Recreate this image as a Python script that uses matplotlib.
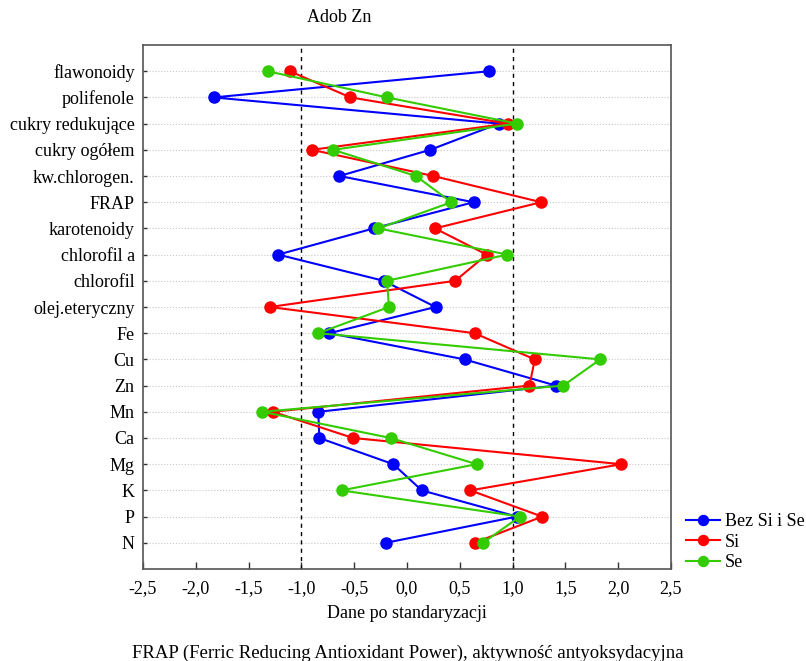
import numpy as np
import matplotlib.pyplot as plt

plt.rcParams['font.family'] = ['Liberation Serif', 'DejaVu Serif']

categories = [
    'flawonoidy', 'polifenole', 'cukry redukujące', 'cukry ogółem',
    'kw.chlorogen.', 'FRAP', 'karotenoidy', 'chlorofil a', 'chlorofil',
    'olej.eteryczny', 'Fe', 'Cu', 'Zn', 'Mn', 'Ca', 'Mg', 'K', 'P', 'N',
]

bez_si_se = [0.78, -1.83, 0.87, 0.22, -0.64, 0.63, -0.315, -1.22, -0.22,
             0.27, -0.735, 0.545, 1.41, -0.84, -0.83, -0.13, 0.14, 1.04, -0.20]
si = [-1.11, -0.535, 0.955, -0.90, 0.25, 1.27, 0.265, 0.755, 0.457,
      -1.30, 0.64, 1.21, 1.16, -1.27, -0.51, 2.03, 0.60, 1.28, 0.64]
se = [-1.32, -0.19, 1.04, -0.70, 0.085, 0.42, -0.27, 0.95, -0.19,
      -0.17, -0.84, 1.83, 1.48, -1.37, -0.155, 0.66, -0.62, 1.07, 0.72]

series_names = ['Bez Si i Se', 'Si', 'Se']
x_ticks = [-2.5, -2.0, -1.5, -1.0, -0.5, 0.0, 0.5, 1.0, 1.5, 2.0, 2.5]

SERIES_COLORS = ['#0000ff', '#ff0000', '#33cc00']

LINE_STYLING = {
    'linewidth': 1.5,
    'marker': 'o',
    'markersize': 8,
    'zorder': 4,
}

GRID_STYLING = {
    'color': '#c8c8c8',
    'linestyle': ':',
    'linewidth': 0.8,
    'zorder': 1,
}

REF_STYLING = {
    'color': 'black',
    'linestyle': (0, (3, 3)),
    'linewidth': 1.0,
    'zorder': 2,
}

FONT_SIZE = 13

fig = plt.figure(figsize=(8.06, 6.61), dpi=100)
ax = fig.add_axes([0.1774, 0.1392, 0.6551, 0.7927])

n = len(categories)
y_pos = np.arange(n, 0, -1)

for values, name, color in zip([bez_si_se, si, se], series_names, SERIES_COLORS):
    ax.plot(values, y_pos, color=color, label=name, **LINE_STYLING)

for y in y_pos:
    ax.axhline(y, **GRID_STYLING)
ax.axvline(-1.0, **REF_STYLING)
ax.axvline(1.0, **REF_STYLING)

ax.set_xlim(-2.5, 2.5)
ax.set_ylim(0, n + 1)
ax.set_xticks(x_ticks)
ax.set_xticklabels([f'{t:.1f}'.replace('.', ',') for t in x_ticks], fontsize=FONT_SIZE)
ax.set_yticks(y_pos)
ax.set_yticklabels(categories, fontsize=FONT_SIZE)
ax.tick_params(axis='x', direction='in', length=5, width=1, color='#333333', pad=8)
ax.tick_params(axis='y', direction='in', length=3, width=1, color='#333333', pad=6)
for sp in ax.spines.values():
    sp.set_color('#555555')
    sp.set_linewidth(1.2)

ax.set_xlabel('Dane po standaryzacji', fontsize=FONT_SIZE, labelpad=6)

fig.text(339 / 806, 1 - 17 / 661, 'Adob Zn', ha='center', va='center', fontsize=13)
fig.text(408 / 806, 1 - 653 / 661,
         'FRAP (Ferric Reducing Antioxidant Power), aktywność antyoksydacyjna',
         ha='center', va='center', fontsize=13.5)

ax.legend(loc='upper left', bbox_to_anchor=(686 / 806, 1 - 513 / 661),
          bbox_transform=fig.transFigure, frameon=False, fontsize=FONT_SIZE,
          handlelength=1.9, handletextpad=0.25, labelspacing=0.2,
          borderaxespad=0, borderpad=0, markerscale=0.9)

fig.savefig('out.png', dpi=100)
